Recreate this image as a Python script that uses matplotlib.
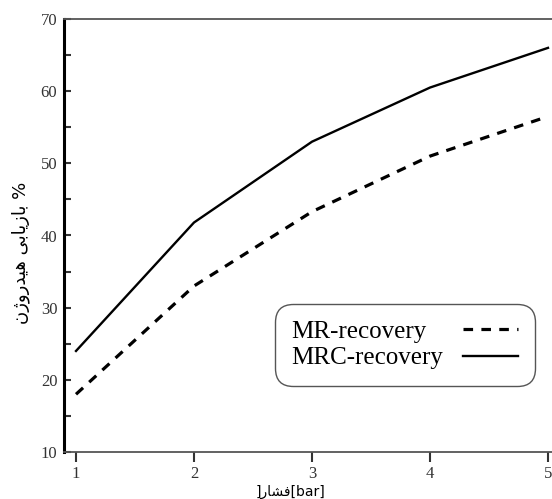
import matplotlib
matplotlib.use('Agg')
import matplotlib.pyplot as plt

# data
pressure = [1, 2, 3, 4, 5]
mr_recovery = [18.0, 33.0, 43.3, 51.0, 56.5]
mrc_recovery = [24.0, 41.8, 53.0, 60.5, 66.0]
y_ticks = [10, 20, 30, 40, 50, 60, 70]
y_minor = [15, 25, 35, 45, 55, 65]

# Persian labels, shaped by hand (presentation forms, visual order)
ylabel_txt = '\uFEE5\uFB8A\uFEED\uFEAD\uFEAA\uFBFF\uFEEB \uFBFD\uFE91\uFE8E\uFBFE\uFEAF\uFE8E\uFE91 %'
xlabel_txt = ']\uFEAD\uFE8E\uFEB8\uFED3[bar]'

plt.rcParams['font.family'] = ['Liberation Serif', 'DejaVu Sans']

fig = plt.figure(figsize=(5.52, 4.99), dpi=100)
ax = fig.add_axes([64.2 / 552, 47 / 499, 495.6 / 552, 433 / 499])

ax.plot(pressure, mr_recovery, color='black', lw=2.3, linestyle=(0, (3, 2.6)),
        label='MR-recovery')
ax.plot(pressure, mrc_recovery, color='black', lw=1.7, label='MRC-recovery')

ax.set_xlim(0.9, 5.1)
ax.set_ylim(10, 70)
ax.set_xticks(pressure)
ax.set_yticks(y_ticks)
ax.set_yticks(y_minor, minor=True)

ax.spines['left'].set_linewidth(2.2)
ax.spines['left'].set_color('black')
for s in ['bottom', 'top']:
    ax.spines[s].set_color('#555555')
    ax.spines[s].set_linewidth(1.3)
ax.spines['right'].set_visible(False)

ax.tick_params(axis='y', which='both', direction='in', length=5, width=1.5,
               labelsize=12, colors='#333333', pad=5)
ax.tick_params(axis='x', which='both', direction='out', length=7, width=1.5,
               labelsize=12, colors='#333333', pad=3)

ax.set_ylabel(ylabel_txt, family=['DejaVu Sans'], fontsize=13)
ax.yaxis.set_label_coords(-0.068, 0.46)
ax.set_xlabel(xlabel_txt, family=['DejaVu Sans'], fontsize=10, labelpad=0)
ax.xaxis.set_label_coords(0.456, -0.075)

leg = ax.legend(loc='center', bbox_to_anchor=(0.6877, 0.247), markerfirst=False,
                fontsize=18, handlelength=2.2, frameon=True, fancybox=True,
                edgecolor='#555555', framealpha=1, borderpad=0.65,
                labelspacing=0.15, handletextpad=0.8)
leg.get_frame().set_linewidth(1.0)
leg.get_frame().set_boxstyle('round,pad=0,rounding_size=0.7')

# left-align the labels, keep the line samples lined up on the right
fig.canvas.draw()
r = fig.canvas.get_renderer()
widths = [t.get_window_extent(r).width for t in leg.texts]
col = leg._legend_handle_box.get_children()[0]
col.align = 'left'
for row, w in zip(col.get_children(), widths):
    row.sep = row.sep + (max(widths) - w) * 72 / fig.dpi

fig.savefig('out.png', dpi=100)
